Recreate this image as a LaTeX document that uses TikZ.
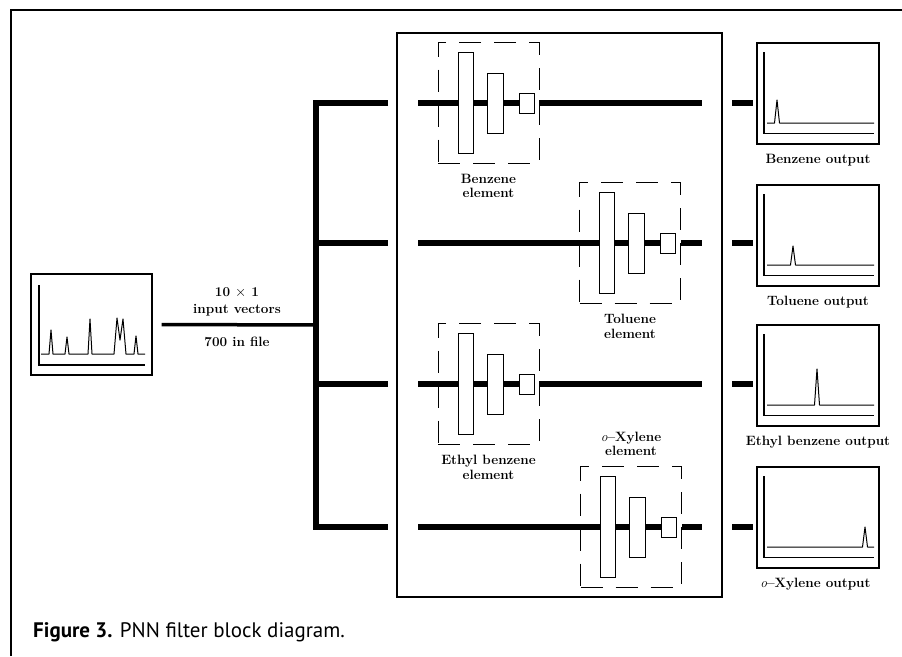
\documentclass[tikz,border=0pt]{standalone}
\usepackage{fontspec}
\newfontfamily\capfont{PT Sans}
\usetikzlibrary{positioning}
\tikzset{
  outerline/.style={line width=1.4pt},
  plotbox/.style={
    draw,
    line width=1.1pt,
    minimum width=122pt,
    minimum height=101pt,
    inner sep=0pt
  },
  netbox/.style={
    draw,
    line width=1.1pt,
    minimum width=325pt,
    minimum height=564pt,
    inner sep=0pt
  },
  elembox/.style={
    draw,
    line width=0.9pt,
    dash pattern=on 22pt off 13pt,
    minimum width=101pt,
    minimum height=121pt,
    inner sep=0pt
  },
  layer/.style={
    draw,
    fill=white,
    line width=0.9pt,
    minimum width=15pt,
    inner sep=0pt
  },
  wire/.style={line width=5.5pt},
  feedline/.style={line width=3.5pt},
  plotaxis/.style={line width=1.3pt},
  peakline/.style={line width=1pt, line join=round},
  lbl/.style={
    font=\fontsize{13.5}{14.5}\selectfont\bfseries,
    align=center,
    inner sep=1pt
  }
}
\begin{document}
\begin{tikzpicture}[x=1pt, y=-1pt]
  \useasboundingbox (0,0) rectangle (902,656);
  \draw[outerline] (11,656) -- (11,10) -- (902,10);

  % input spectrum
  \node[plotbox, minimum width=121pt] (inbox) at (91.5,324.5) {};
  \draw[plotaxis] (39,285) -- (39,365) -- (145,365);
  \draw[peakline] (41,354) -- (49,354) -- (51,330) -- (53,354) -- (65,354)
    -- (67,337) -- (69,354) -- (88,354) -- (90,319) -- (92,354) -- (114,354)
    -- (117,318) -- (120,340) -- (123,319) -- (126,354) -- (134,354)
    -- (136,336) -- (138,354) -- (145,354);

  % feed and bus
  \coordinate (feed) at (316,325);
  \draw[feedline] ([xshift=9pt]inbox.east) -- (feed);
  \node[lbl] (vecs) at (237,302) {10 $\times$ 1\\[3pt]input vectors};
  \node[lbl] (nfile) at (237,342) {700 in file};
  \foreach \k/\y in {1/103, 2/243, 3/384, 4/527}{
    \coordinate (tap\k) at (316,\y);
    \coordinate (arm\k) at (388,\y);
    \coordinate (wa\k) at (418,\y);
    \coordinate (wz\k) at (702,\y);
    \coordinate (sa\k) at (732,\y);
    \coordinate (sz\k) at (753,\y);
    \draw[wire] (sa\k) -- (sz\k);
  }
  \draw[wire] (arm1) -- (tap1) -- (tap4) -- (arm4);
  \draw[wire] (tap2) -- (arm2);
  \draw[wire] (tap3) -- (arm3);

  % filter elements
  \node[netbox] (net) at (559.5,315) {};
  \foreach \k/\ex/\ey in {1/488.5/103, 2/630/243, 3/488.5/384, 4/631/527}{
    \node[elembox] (el\k) at (\ex,\ey) {};
    \node[layer, minimum height=101pt] (la\k) at ({\ex-23},\ey) {};
    \node[layer, minimum height=60pt, minimum width=16pt] (lb\k) at ({\ex+6.5},\ey) {};
    \node[layer, minimum height=20pt] (lc\k) at ({\ex+38},\ey) {};
    \draw[wire] (wa\k) -- (la\k.west) (la\k.east) -- (lb\k.west)
      (lb\k.east) -- (lc\k.west) (el\k.east) -- (wz\k);
  }
  \node[lbl, below=9pt of el1] {Benzene\\element};
  \node[lbl, below=9pt of el2] {Toluene\\element};
  \node[lbl, below=9pt of el3] {Ethyl benzene\\element};
  \node[lbl, above=9pt of el4] {{\normalfont\itshape o}--Xylene\\element};

  % output spectra
  \foreach \k/\y/\px/\ph/\name in {
    1/93.5/777/23/{Benzene output},
    2/235.5/793/19/{Toluene output},
    3/375.5/817/36/{Ethyl benzene output},
    4/517.5/865/20/{{\normalfont\itshape o}--Xylene output}
  }{
    \node[plotbox] (out\k) at (818,\y) {};
    \pgfmathsetmacro{\base}{\y+29.5}
    \pgfmathsetmacro{\ax}{\y+40}
    \pgfmathsetmacro{\tp}{\y-41.5}
    \pgfmathsetmacro{\pk}{\base-\ph}
    \draw[plotaxis] (764,\tp) -- (764,\ax) -- (874,\ax);
    \draw[peakline] (767,\base) -- ({\px-2.5},\base) -- (\px,\pk)
      -- ({\px+2.5},\base) -- (874,\base);
    \node[lbl, below=8pt of out\k] (name\k) {\name};
  }

  \node[anchor=base west, inner sep=0pt,
    font=\capfont\fontsize{21}{23}\selectfont] (cap) at (33,637)
    {\textbf{Figure 3.} PNN filter block diagram.};
\end{tikzpicture}
\end{document}
